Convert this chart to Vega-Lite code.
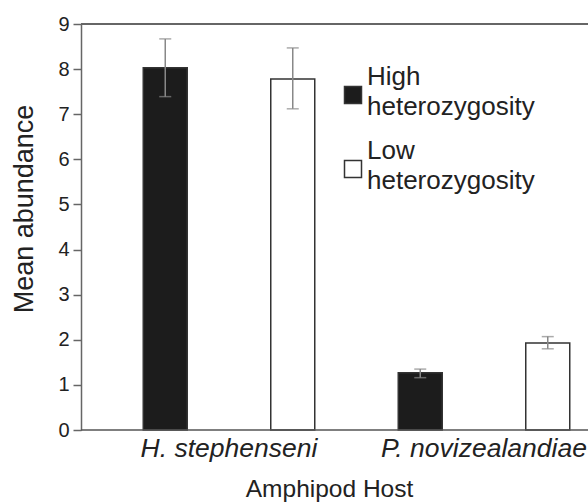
{
  "$schema": "https://vega.github.io/schema/vega-lite/v6.json",
  "autosize": {"type": "none"},
  "padding": {"left": 81, "top": 24, "right": 0, "bottom": 72},
  "width": 507,
  "height": 406,
  "background": "white",
  "config": {
    "view": {"stroke": null},
    "font": "Liberation Sans",
    "axis": {"grid": false}
  },
  "data": {
    "values": [
      {"host": "H. stephenseni", "het": "High", "mean": 8.03, "lo": 7.39, "hi": 8.67},
      {"host": "H. stephenseni", "het": "Low", "mean": 7.78, "lo": 7.12, "hi": 8.47},
      {"host": "P. novizealandiae", "het": "High", "mean": 1.27, "lo": 1.16, "hi": 1.35},
      {"host": "P. novizealandiae", "het": "Low", "mean": 1.93, "lo": 1.80, "hi": 2.07}
    ]
  },
  "encoding": {
    "x": {
      "field": "host", "type": "nominal",
      "scale": {"domain": ["H. stephenseni", "P. novizealandiae"], "range": [20.5, 530.5], "paddingInner": 0, "paddingOuter": 0},
      "axis": {
        "title": "Amphipod Host", "domain": false, "ticks": false, "labelAngle": 0, "labelLimit": 400,
        "labelFontSize": 26.5, "labelFontStyle": "italic", "labelColor": "#222", "labelPadding": 5,
        "titleFontSize": 24.5, "titleFontWeight": "normal", "titleColor": "#222",
        "titleX": 248, "titleY": 66, "titleBaseline": "alphabetic", "titleAnchor": "middle", "titleAlign": "center"
      }
    },
    "xOffset": {"field": "het", "type": "nominal", "scale": {"domain": ["High", "Low"], "paddingInner": 0, "paddingOuter": 0}}
  },
  "layer": [
    {
      "mark": {"type": "bar", "width": 44, "stroke": "#333", "strokeWidth": 1.5},
      "encoding": {
        "y": {
          "field": "mean", "type": "quantitative",
          "scale": {"domain": [0, 9], "nice": false},
          "axis": {
            "title": "Mean abundance", "values": [0,1,2,3,4,5,6,7,8,9],
            "domainColor": "#666", "domainWidth": 1.5, "tickColor": "#666", "tickWidth": 1.5, "tickSize": 8,
            "labelFontSize": 20, "labelColor": "#222", "labelPadding": 4,
            "titleFontSize": 27, "titleFontWeight": "normal", "titleColor": "#222",
            "titleAngle": -90, "titleX": -49, "titleY": 184.5, "titleBaseline": "alphabetic", "titleAlign": "center"
          }
        },
        "color": {
          "field": "het", "type": "nominal",
          "scale": {"domain": ["High", "Low"], "range": ["#1c1c1c", "#ffffff"]},
          "legend": {
            "title": null, "orient": "none", "legendX": 259, "legendY": 58,
            "symbolType": "square", "symbolSize": 289, "symbolStrokeColor": "#333", "symbolStrokeWidth": 1.5,
            "labelFontSize": 26, "labelColor": "#222", "labelOffset": 1, "labelLimit": 300, "rowPadding": 18,
            "labelExpr": "datum.label == 'High' ? ['High', 'heterozygosity'] : ['Low', 'heterozygosity']",
            "encode": {"labels": {"update": {"lineHeight": {"value": 30}, "dy": {"value": -18}}}}
          }
        }
      }
    },
    {
      "mark": {"type": "rule", "color": "#888", "strokeWidth": 1.5},
      "encoding": {
        "y": {"field": "lo", "type": "quantitative"},
        "y2": {"field": "hi"}
      }
    },
    {
      "mark": {"type": "tick", "color": "#888", "size": 12, "thickness": 1.5, "orient": "horizontal"},
      "encoding": {"y": {"field": "hi", "type": "quantitative"}}
    },
    {
      "mark": {"type": "tick", "color": "#888", "size": 12, "thickness": 1.5, "orient": "horizontal"},
      "encoding": {"y": {"field": "lo", "type": "quantitative"}}
    },
    {
      "data": {"values": [{}]},
      "mark": {"type": "rule", "color": "#666", "strokeWidth": 2},
      "encoding": {"y": {"datum": 9}, "x": null, "xOffset": null}
    },
    {
      "data": {"values": [{}]},
      "mark": {"type": "rule", "color": "#555", "strokeWidth": 1.5},
      "encoding": {"y": {"datum": 0}, "x": null, "xOffset": null}
    }
  ]
}
